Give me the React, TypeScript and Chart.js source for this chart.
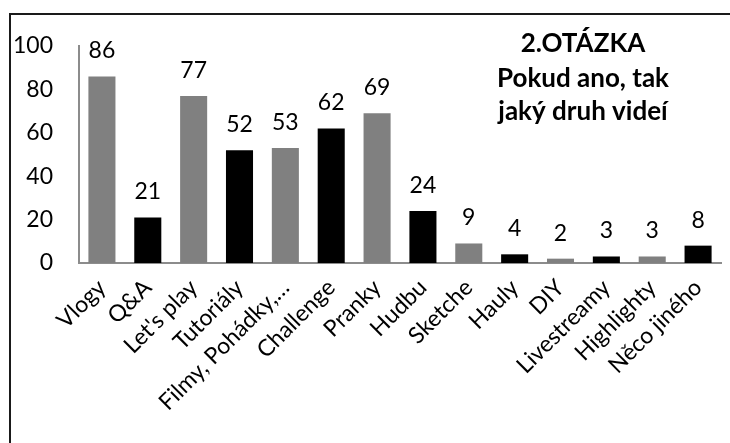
import React, { useEffect, useRef } from "react";
import { Chart, registerables } from "chart.js";

Chart.register(...registerables);

const categories = [
  "Vlogy",
  "Q&A",
  "Let's play",
  "Tutoriály",
  "Filmy, Pohádky,…",
  "Challenge",
  "Pranky",
  "Hudbu",
  "Sketche",
  "Hauly",
  "DIY",
  "Livestreamy",
  "Highlighty",
  "Něco jiného",
];
const values = [86, 21, 77, 52, 53, 62, 69, 24, 9, 4, 2, 3, 3, 8];
const barColors = [
  "#808080", "#000000", "#808080", "#000000", "#808080", "#000000", "#808080",
  "#000000", "#808080", "#000000", "#808080", "#000000", "#808080", "#000000",
];
const titleLines = ["2.OTÁZKA", "Pokud ano, tak", "jaký druh videí"];
const yTicks = [0, 20, 40, 60, 80, 100];

const FONT = "Lato, 'Open Sans', sans-serif";

const labelPlugin = {
  id: "valueLabels",
  afterDatasetsDraw(chart: any) {
    const ctx = chart.ctx;
    const meta = chart.getDatasetMeta(0);
    ctx.save();
    ctx.font = `23px ${FONT}`;
    ctx.fillStyle = "#000";
    ctx.textAlign = "center";
    ctx.textBaseline = "alphabetic";
    meta.data.forEach((bar: any, i: number) => {
      ctx.fillText(String(values[i]), bar.x, bar.y - 18);
    });
    ctx.restore();
  },
};

const titlePlugin = {
  id: "cornerTitle",
  afterDraw(chart: any) {
    const ctx = chart.ctx;
    ctx.save();
    ctx.font = `bold 26px ${FONT}`;
    ctx.fillStyle = "#000";
    ctx.textAlign = "center";
    ctx.textBaseline = "middle";
    const ys = [44, 79, 112];
    titleLines.forEach((t, i) => ctx.fillText(t, 583, ys[i]));
    ctx.restore();
  },
};

export default function App() {
  const ref = useRef<HTMLCanvasElement>(null);
  useEffect(() => {
    if (!ref.current) return;
    const chart = new Chart(ref.current, {
      type: "bar",
      data: {
        labels: categories,
        datasets: [
          {
            data: values,
            backgroundColor: barColors,
            borderWidth: 0,
            categoryPercentage: 1,
            barPercentage: 0.59,
          },
        ],
      },
      options: {
        animation: false,
        responsive: false,
        maintainAspectRatio: false,
        layout: { padding: { top: 46, right: 9, left: 0, bottom: 0 } },
        plugins: {
          legend: { display: false },
          tooltip: { enabled: false },
          title: { display: false },
        },
        scales: {
          x: {
            grid: { display: false, drawTicks: false },
            border: { display: true, color: "#8c8c8c", width: 2 },
            ticks: {
              color: "#000",
              font: { family: FONT, size: 23 },
              maxRotation: 45,
              minRotation: 45,
              autoSkip: false,
              padding: 11,
            },
            afterFit: (scale: any) => {
              scale.height = 180;
            },
          },
          y: {
            min: 0,
            max: 100,
            afterBuildTicks: (scale: any) => {
              scale.ticks = yTicks.map((v) => ({ value: v }));
            },
            grid: { display: false, drawTicks: false },
            border: { display: true, color: "#8c8c8c", width: 2 },
            ticks: {
              color: "#000",
              font: { family: FONT, size: 23 },
              padding: 26,
            },
            afterFit: (scale: any) => {
              scale.width = 79;
            },
          },
        },
      },
      plugins: [labelPlugin, titlePlugin],
    });
    return () => chart.destroy();
  }, []);

  return (
    <div
      style={{
        position: "absolute",
        left: 0,
        top: 0,
        width: 730,
        height: 443,
        overflow: "hidden",
        background: "#fff",
      }}
    >
      <canvas ref={ref} width={730} height={443} style={{ display: "block" }} />
      <div
        style={{
          position: "absolute",
          left: 9,
          top: 13,
          width: 800,
          height: 600,
          border: "2px solid #1a1a1a",
          pointerEvents: "none",
        }}
      />
    </div>
  );
}
